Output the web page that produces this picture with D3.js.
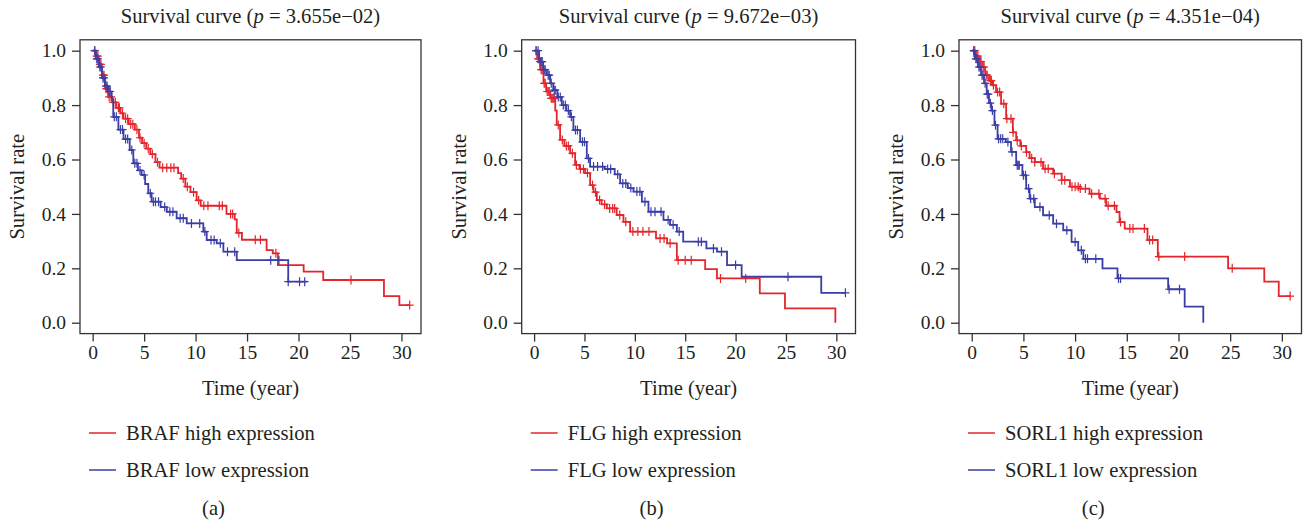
<!DOCTYPE html>
<html>
<head>
<meta charset="utf-8">
<script src="https://cdn.jsdelivr.net/npm/d3@7"></script>
<style>
  body { margin: 0; background: #fff; }
  text { font-family: "Liberation Serif", "DejaVu Serif", serif; fill: #231f20; }
</style>
</head>
<body>
<div id="chart"></div>
<script>
// gene labels, p values, captions
let genes = ["BRAF", "FLG", "SORL1"],
    pValues = ["3.655e\u221202", "9.672e\u221203", "4.351e\u221204"],
    captions = ["(a)", "(b)", "(c)"],
    xTicks = [0, 5, 10, 15, 20, 25, 30],
    yTicks = [0, 0.2, 0.4, 0.6, 0.8, 1.0];

// BRAF
let brafHighTime = [0, 0.3, 0.6, 0.9, 1.2, 1.5, 1.9, 2.3, 2.7, 3.0, 3.5, 4.1, 4.5, 4.8, 5.2, 5.6, 6.1, 6.5, 8.3, 8.6, 9.0, 9.5, 10.1, 10.5, 13.0, 13.8, 14.0, 14.5, 16.9, 17.5, 18.0, 20.5, 22.4, 28.3, 29.8],
    brafHighSurv = [1.0, 0.98, 0.95, 0.91, 0.86, 0.83, 0.81, 0.79, 0.77, 0.75, 0.73, 0.71, 0.68, 0.66, 0.64, 0.62, 0.59, 0.57, 0.55, 0.53, 0.50, 0.48, 0.45, 0.43, 0.40, 0.38, 0.33, 0.305, 0.267, 0.255, 0.212, 0.188, 0.157, 0.098, 0.065],
    brafHighEnd = 30.8,
    brafHighCensor = [0.2, 0.4, 0.5, 0.7, 0.8, 1.0, 1.1, 1.3, 1.4, 1.6, 1.8, 2.0, 2.2, 2.5, 2.6, 2.9, 3.2, 3.4, 3.7, 3.9, 4.3, 4.6, 5.0, 5.4, 5.8, 6.3, 6.8, 7.2, 7.6, 7.9, 8.8, 9.2, 9.8, 10.3, 10.8, 11.2, 12.3, 12.6, 13.4, 13.6, 14.2, 15.8, 16.3, 17.8, 25.1, 30.8];
let brafLowTime = [0, 0.3, 0.6, 0.9, 1.2, 1.5, 1.85, 2.0, 2.5, 3.0, 3.6, 3.95, 4.4, 4.76, 5.1, 5.4, 5.73, 6.6, 7.2, 8.16, 9.14, 10.75, 11.08, 12.05, 12.7, 14.0, 19.0],
    brafLowSurv = [1.0, 0.97, 0.94, 0.90, 0.87, 0.85, 0.82, 0.757, 0.71, 0.675, 0.635, 0.586, 0.56, 0.543, 0.51, 0.476, 0.445, 0.425, 0.408, 0.384, 0.365, 0.335, 0.304, 0.292, 0.261, 0.23, 0.151],
    brafLowEnd = 20.8,
    brafLowCensor = [0.2, 0.4, 0.5, 0.7, 0.8, 1.0, 1.1, 1.3, 1.4, 1.6, 1.7, 2.1, 2.3, 2.7, 2.9, 3.2, 3.4, 3.8, 4.1, 4.3, 4.6, 5.0, 5.6, 5.9, 6.1, 6.4, 7.0, 7.5, 7.8, 8.5, 8.8, 9.6, 10.4, 10.9, 11.5, 11.8, 12.4, 13.1, 13.8, 17.3, 18.1, 19.0, 20.1, 20.6];

// FLG
let flgHighTime = [0, 0.3, 0.6, 0.93, 1.2, 1.6, 2.1, 2.25, 2.58, 3.0, 3.57, 4.07, 4.5, 5.06, 5.56, 5.9, 6.23, 6.7, 7.22, 8.2, 8.87, 9.53, 12.1, 13.2, 14.17, 16.98, 18.15, 22.4, 24.9, 29.9],
    flgHighSurv = [1.0, 0.97, 0.93, 0.88, 0.85, 0.825, 0.78, 0.727, 0.672, 0.65, 0.623, 0.58, 0.565, 0.55, 0.506, 0.48, 0.451, 0.435, 0.42, 0.396, 0.371, 0.335, 0.31, 0.292, 0.23, 0.197, 0.163, 0.108, 0.053, 0.0],
    flgHighEnd = 29.9,
    flgHighCensor = [0.2, 0.4, 0.5, 0.7, 0.8, 1.0, 1.1, 1.3, 1.4, 1.5, 1.7, 1.8, 1.9, 2.0, 2.4, 2.8, 3.2, 3.4, 3.8, 4.2, 4.6, 4.9, 5.3, 5.8, 6.1, 6.5, 7.0, 7.5, 7.8, 8.0, 8.5, 9.1, 9.8, 10.3, 10.8, 11.4, 12.5, 12.9, 13.5, 14.3, 15.0, 15.6, 18.5, 21.0];
let flgLowTime = [0, 0.5, 0.9, 1.26, 1.6, 1.9, 2.3, 2.75, 3.2, 3.57, 3.9, 4.57, 5.23, 5.56, 7.0, 8.0, 8.54, 9.3, 9.86, 10.7, 11.35, 12.84, 13.5, 14.17, 14.8, 17.1, 18.15, 19.15, 20.6, 28.5],
    flgLowSurv = [1.0, 0.96, 0.93, 0.91, 0.88, 0.855, 0.83, 0.80, 0.78, 0.757, 0.708, 0.665, 0.604, 0.574, 0.565, 0.545, 0.512, 0.495, 0.482, 0.445, 0.408, 0.378, 0.36, 0.335, 0.298, 0.273, 0.261, 0.212, 0.169, 0.11],
    flgLowEnd = 30.9,
    flgLowCensor = [0.2, 0.4, 0.6, 0.7, 0.8, 1.0, 1.1, 1.4, 1.5, 1.7, 2.0, 2.1, 2.4, 2.6, 2.9, 3.1, 3.4, 3.7, 4.1, 4.3, 4.8, 5.0, 5.4, 5.9, 6.3, 6.8, 7.3, 7.6, 8.3, 8.8, 9.1, 9.6, 10.2, 10.5, 11.0, 11.6, 12.0, 12.6, 13.3, 13.8, 14.4, 16.3, 16.6, 17.8, 18.6, 20.0, 25.2, 30.9];

// SORL1
let sorl1HighTime = [0, 0.4, 0.7, 1.03, 1.3, 1.67, 2.0, 2.35, 2.84, 3.33, 3.98, 4.3, 4.7, 5.27, 5.6, 6.1, 6.9, 7.88, 8.7, 9.5, 10.5, 11.4, 12.4, 13.0, 14.0, 14.3, 14.8, 17.0, 18.0, 24.8, 28.3, 29.7],
    sorl1HighSurv = [1.0, 0.98, 0.96, 0.94, 0.91, 0.89, 0.873, 0.848, 0.805, 0.75, 0.70, 0.67, 0.65, 0.627, 0.605, 0.59, 0.566, 0.548, 0.524, 0.50, 0.493, 0.474, 0.456, 0.43, 0.407, 0.37, 0.346, 0.304, 0.243, 0.2, 0.151, 0.098],
    sorl1HighEnd = 30.8,
    sorl1HighCensor = [0.2, 0.3, 0.5, 0.6, 0.8, 0.9, 1.1, 1.2, 1.4, 1.5, 1.8, 1.9, 2.1, 2.5, 2.7, 3.1, 3.4, 3.8, 4.0, 4.4, 4.8, 5.3, 5.8, 6.1, 6.7, 7.1, 7.4, 8.0, 8.7, 9.0, 9.7, 10.0, 10.3, 10.5, 11.0, 11.6, 12.3, 12.9, 13.2, 13.8, 14.4, 15.3, 15.6, 16.7, 17.2, 17.5, 18.1, 20.6, 25.2, 30.8];
let sorl1LowTime = [0, 0.3, 0.6, 0.9, 1.19, 1.45, 1.67, 1.9, 2.2, 2.5, 3.3, 3.8, 4.3, 4.9, 5.27, 5.6, 6.1, 6.9, 7.88, 8.85, 9.66, 10.3, 10.8, 12.65, 14.1, 19.0, 20.6, 22.4],
    sorl1LowSurv = [1.0, 0.97, 0.94, 0.91, 0.88, 0.84, 0.807, 0.78, 0.726, 0.676, 0.664, 0.628, 0.579, 0.542, 0.493, 0.456, 0.425, 0.395, 0.364, 0.34, 0.297, 0.266, 0.235, 0.2, 0.163, 0.123, 0.059, 0.0],
    sorl1LowEnd = 22.4,
    sorl1LowCensor = [0.2, 0.4, 0.5, 0.7, 0.8, 1.0, 1.1, 1.3, 1.5, 1.6, 1.8, 2.0, 2.3, 2.6, 2.8, 3.0, 3.5, 3.9, 4.4, 4.5, 4.6, 5.0, 5.2, 5.5, 5.7, 6.0, 6.6, 7.5, 8.2, 9.2, 10.0, 10.6, 11.0, 11.2, 12.0, 14.2, 14.4, 19.1, 20.1];

let curves = [
  [{ time: brafHighTime, surv: brafHighSurv, end: brafHighEnd, censor: brafHighCensor },
   { time: brafLowTime, surv: brafLowSurv, end: brafLowEnd, censor: brafLowCensor }],
  [{ time: flgHighTime, surv: flgHighSurv, end: flgHighEnd, censor: flgHighCensor },
   { time: flgLowTime, surv: flgLowSurv, end: flgLowEnd, censor: flgLowCensor }],
  [{ time: sorl1HighTime, surv: sorl1HighSurv, end: sorl1HighEnd, censor: sorl1HighCensor },
   { time: sorl1LowTime, surv: sorl1LowSurv, end: sorl1LowEnd, censor: sorl1LowCensor }]
];

let width = 1305, height = 525,
    colors = ["#e3262c", "#3b3ea6"],
    boxes = [[80, 421], [521.7, 855.5], [959, 1301.5]],   // plot box left/right per panel
    plotTop = 39.8, plotBottom = 333.6;

const svg = d3.select("#chart")
  .append("svg")
  .attr("width", width)
  .attr("height", height);

let y = d3.scaleLinear()
  .domain([-0.04, 1.04])
  .range([plotBottom, plotTop]);

for (let p = 0; p < 3; p++) {
  let [left, right] = boxes[p];
  let x = d3.scaleLinear()
    .domain([-1.23, 31.9])
    .range([left, right]);
  let mid = (left + right) / 2;
  let g = svg.append("g");

  // title
  let title = g.append("text")
    .attr("x", mid)
    .attr("y", 23)
    .attr("text-anchor", "middle")
    .style("font-size", "20.6px");
  title.append("tspan").text("Survival curve (");
  title.append("tspan").style("font-style", "italic").text("p");
  title.append("tspan").text(" = " + pValues[p] + ")");

  // axes
  let ax = g.append("g")
    .attr("transform", `translate(0,${plotBottom})`)
    .call(d3.axisBottom(x).tickValues(xTicks).tickSize(8).tickPadding(4).tickSizeOuter(0));
  let ay = g.append("g")
    .attr("transform", `translate(${left},0)`)
    .call(d3.axisLeft(y).tickValues(yTicks).tickSize(8).tickPadding(6).tickFormat(d3.format(".1f")).tickSizeOuter(0));
  for (let a of [ax, ay]) {
    a.select(".domain").remove();
    a.selectAll("line").attr("stroke", "#333").attr("stroke-width", 1.3);
    a.selectAll("text")
      .style("font-size", "19.5px")
      .attr("fill", "#231f20");
  }

  // curves
  let line = d3.line()
    .x(d => x(d[0]))
    .y(d => y(d[1]))
    .curve(d3.curveStepAfter);

  curves[p].forEach((c, i) => {
    let pts = c.time.map((t, j) => [t, c.surv[j]]);
    pts.push([c.end, c.surv[c.surv.length - 1]]);
    g.append("path")
      .datum(pts)
      .attr("fill", "none")
      .attr("stroke", colors[i])
      .attr("stroke-width", 1.8)
      .attr("d", line);

    let marks = c.censor.map(t => [t, c.surv[d3.bisectRight(c.time, t) - 1]]);
    g.append("g")
      .selectAll("path")
      .data(marks)
      .join("path")
      .attr("fill", "none")
      .attr("stroke", colors[i])
      .attr("stroke-width", 1.2)
      .attr("d", d => {
        let px = x(d[0]), py = y(d[1]);
        return `M${px - 4},${py}H${px + 4}M${px},${py - 4.5}V${py + 4.5}`;
      });
  });

  // box
  g.append("rect")
    .attr("x", left)
    .attr("y", plotTop)
    .attr("width", right - left)
    .attr("height", plotBottom - plotTop)
    .attr("fill", "none")
    .attr("stroke", "#333")
    .attr("stroke-width", 1.3);

  // axis titles
  g.append("text")
    .attr("x", mid)
    .attr("y", 395)
    .attr("text-anchor", "middle")
    .style("font-size", "20.6px")
    .text("Time (year)");

  g.append("text")
    .attr("transform", `translate(${left - 56},${(plotTop + plotBottom) / 2}) rotate(-90)`)
    .attr("text-anchor", "middle")
    .style("font-size", "20.6px")
    .text("Survival rate");

  // legend
  ["high", "low"].forEach((lvl, i) => {
    let ly = 433 + i * 37;
    g.append("line")
      .attr("x1", left + 9).attr("x2", left + 36)
      .attr("y1", ly).attr("y2", ly)
      .attr("stroke", colors[i])
      .attr("stroke-width", 1.5);
    g.append("text")
      .attr("x", left + 46)
      .attr("y", ly)
      .attr("dominant-baseline", "central")
      .style("font-size", "20.6px")
      .text(`${genes[p]} ${lvl} expression`);
  });

  g.append("text")
    .attr("x", mid - 37)
    .attr("y", 508)
    .attr("dominant-baseline", "central")
    .attr("text-anchor", "middle")
    .style("font-size", "20.6px")
    .text(captions[p]);
}
</script>
</body>
</html>
